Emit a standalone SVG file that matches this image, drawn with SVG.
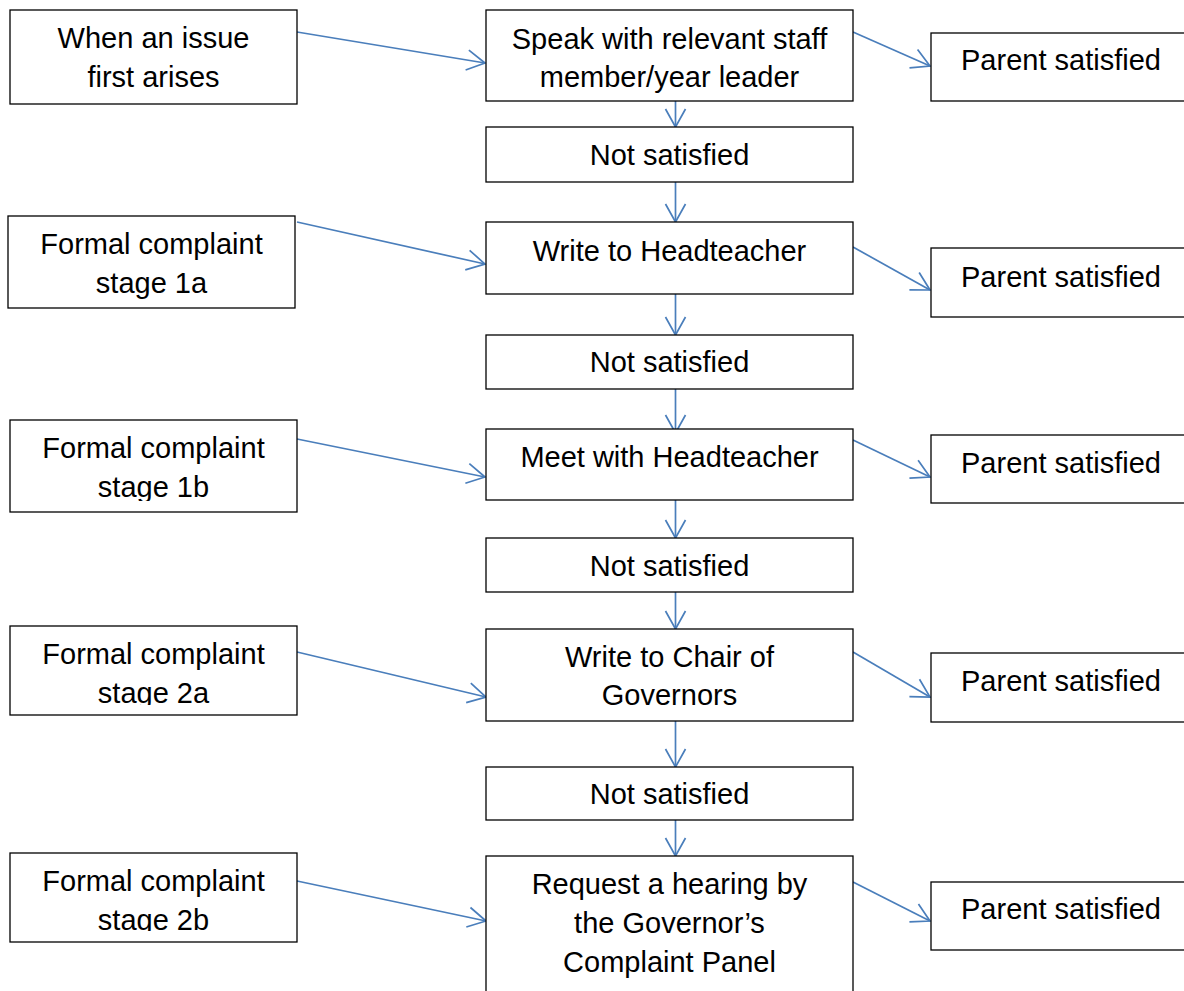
<svg xmlns="http://www.w3.org/2000/svg" width="1184" height="991" viewBox="0 0 1184 991">
<style>
.box{fill:#fff;stroke:#000;stroke-width:1.3}
.t{font-family:"Liberation Sans",Arial,sans-serif;font-size:29px;fill:#000;text-anchor:middle}
.ts{font-family:"Liberation Sans",Arial,sans-serif;font-size:29px;fill:#000}
.c{fill:none;stroke:#4a7ebb;stroke-width:1.7;marker-end:url(#ah)}
</style>
<defs>
<marker id="ah" markerUnits="userSpaceOnUse" viewBox="-20 -12 22 24" markerWidth="22" markerHeight="24" refX="0" refY="0" orient="auto">
<path d="M-18,-10 L0,0 L-18,10" fill="none" stroke="#4a7ebb" stroke-width="1.7"/>
</marker>
<clipPath id="clipL3"><rect x="10" y="420" width="287" height="81"/></clipPath>
<clipPath id="clipL4"><rect x="10" y="626" width="287" height="79"/></clipPath>
<clipPath id="clipL5"><rect x="10" y="853" width="287" height="78"/></clipPath>
</defs>
<rect width="1184" height="991" fill="#fff"/>

<g id="connectors">
<line class="c" x1="297" y1="32" x2="485" y2="63"/>
<line class="c" x1="297" y1="222" x2="485" y2="264"/>
<line class="c" x1="297" y1="439" x2="485" y2="477"/>
<line class="c" x1="297" y1="652" x2="486" y2="697"/>
<line class="c" x1="297" y1="881" x2="486" y2="921"/>
<line class="c" x1="853" y1="32" x2="930" y2="66"/>
<line class="c" x1="853" y1="247" x2="930" y2="290"/>
<line class="c" x1="853" y1="440" x2="930" y2="477"/>
<line class="c" x1="853" y1="652" x2="930" y2="697"/>
<line class="c" x1="853" y1="882" x2="930" y2="921"/>
<line class="c" x1="675.5" y1="101" x2="675.5" y2="127"/>
<line class="c" x1="675.5" y1="182" x2="675.5" y2="222"/>
<line class="c" x1="675.5" y1="294" x2="675.5" y2="335"/>
<line class="c" x1="675.5" y1="389" x2="675.5" y2="433"/>
<line class="c" x1="675.5" y1="500" x2="675.5" y2="538"/>
<line class="c" x1="675.5" y1="592" x2="675.5" y2="629"/>
<line class="c" x1="675.5" y1="721" x2="675.5" y2="767"/>
<line class="c" x1="675.5" y1="820" x2="675.5" y2="856"/>
</g>

<g id="L1"><rect class="box" x="10" y="10" width="287" height="94"/>
<text class="t" x="153.5" y="48">When an issue</text><text class="t" x="153.5" y="87">first arises</text></g>
<g id="L2"><rect class="box" x="8" y="216" width="287" height="92"/>
<text class="t" x="151.5" y="254">Formal complaint</text><text class="t" x="151.5" y="293">stage 1a</text></g>
<g id="L3"><rect class="box" x="10" y="420" width="287" height="92"/>
<g clip-path="url(#clipL3)"><text class="t" x="153.5" y="458">Formal complaint</text><text class="t" x="153.5" y="497">stage 1b</text></g></g>
<g id="L4"><rect class="box" x="10" y="626" width="287" height="89"/>
<g clip-path="url(#clipL4)"><text class="t" x="153.5" y="664">Formal complaint</text><text class="t" x="153.5" y="703">stage 2a</text></g></g>
<g id="L5"><rect class="box" x="10" y="853" width="287" height="89"/>
<g clip-path="url(#clipL5)"><text class="t" x="153.5" y="891">Formal complaint</text><text class="t" x="153.5" y="930">stage 2b</text></g></g>

<g id="M1"><rect class="box" x="486" y="10" width="367" height="91"/>
<text class="t" x="669.5" y="49">Speak with relevant staff</text><text class="t" x="669.5" y="87">member/year leader</text></g>
<g id="N1"><rect class="box" x="486" y="127" width="367" height="55"/>
<text class="t" x="669.5" y="165">Not satisfied</text></g>
<g id="M2"><rect class="box" x="486" y="222" width="367" height="72"/>
<text class="t" x="669.5" y="261">Write to Headteacher</text></g>
<g id="N2"><rect class="box" x="486" y="335" width="367" height="54"/>
<text class="t" x="669.5" y="372">Not satisfied</text></g>
<g id="M3"><rect class="box" x="486" y="429" width="367" height="71"/>
<text class="t" x="669.5" y="467">Meet with Headteacher</text></g>
<g id="N3"><rect class="box" x="486" y="538" width="367" height="54"/>
<text class="t" x="669.5" y="576">Not satisfied</text></g>
<g id="M4"><rect class="box" x="486" y="629" width="367" height="92"/>
<text class="t" x="669.5" y="667">Write to Chair of</text><text class="t" x="669.5" y="705">Governors</text></g>
<g id="N4"><rect class="box" x="486" y="767" width="367" height="53"/>
<text class="t" x="669.5" y="804">Not satisfied</text></g>
<g id="M5"><rect class="box" x="486" y="856" width="367" height="150"/>
<text class="t" x="669.5" y="894">Request a hearing by</text><text class="t" x="669.5" y="933">the Governor’s</text><text class="t" x="669.5" y="972">Complaint Panel</text></g>

<g id="P1"><rect class="box" x="931" y="33" width="270" height="68"/><text class="ts" x="961" y="70">Parent satisfied</text></g>
<g id="P2"><rect class="box" x="931" y="248" width="270" height="69"/><text class="ts" x="961" y="287">Parent satisfied</text></g>
<g id="P3"><rect class="box" x="931" y="435" width="270" height="68"/><text class="ts" x="961" y="473">Parent satisfied</text></g>
<g id="P4"><rect class="box" x="931" y="653" width="270" height="69"/><text class="ts" x="961" y="691">Parent satisfied</text></g>
<g id="P5"><rect class="box" x="931" y="882" width="270" height="68"/><text class="ts" x="961" y="919">Parent satisfied</text></g>
</svg>
